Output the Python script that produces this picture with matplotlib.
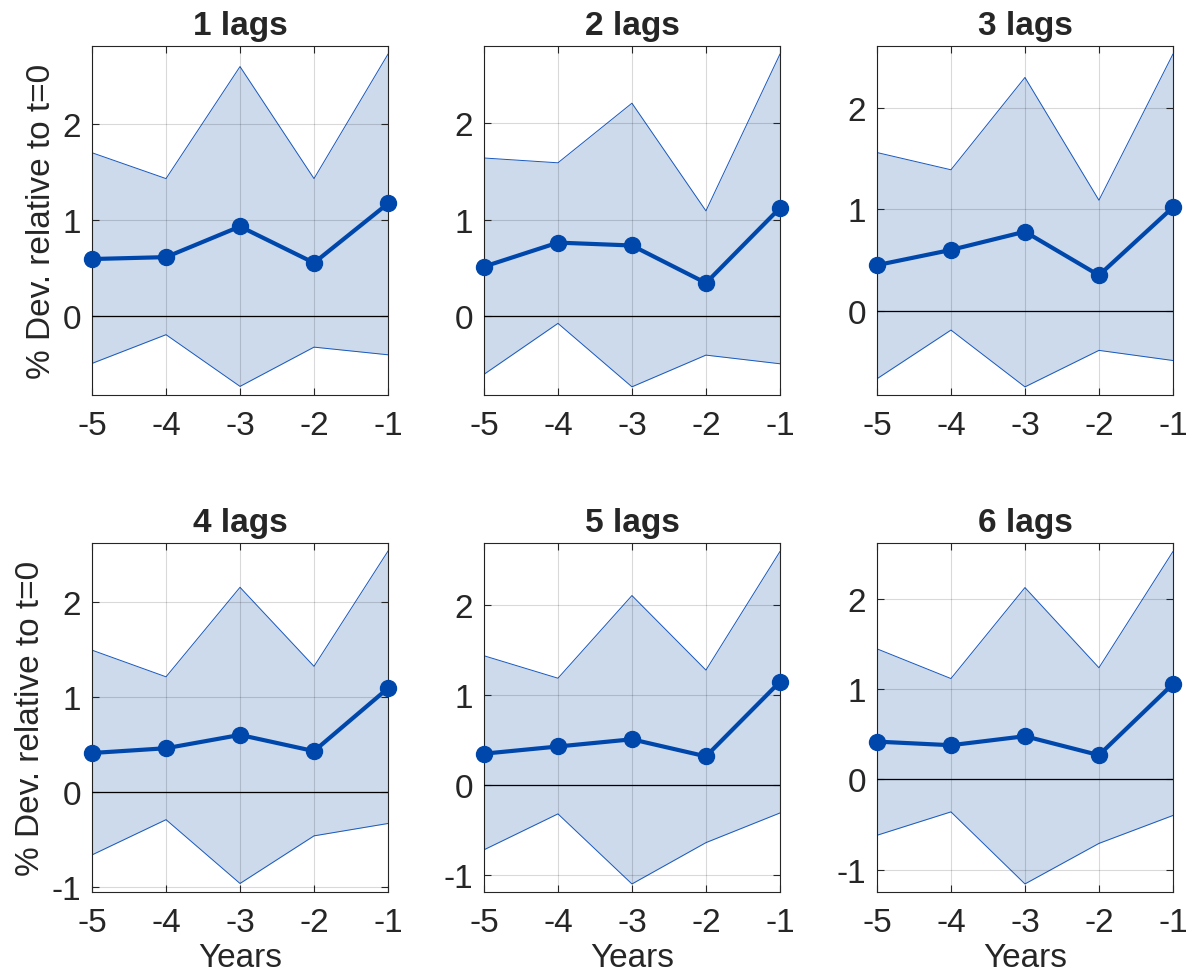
import numpy as np
import matplotlib
matplotlib.use('Agg')
from matplotlib import pyplot as plt
from matplotlib.ticker import MultipleLocator

plt.rcParams['font.family'] = ['Liberation Sans', 'DejaVu Sans']
plt.rcParams['axes.unicode_minus'] = False

years = [-5, -4, -3, -2, -1]
titles = ['1 lags', '2 lags', '3 lags', '4 lags', '5 lags', '6 lags']

# point estimates and confidence band for each lag length
est_1 = [0.59, 0.61, 0.93, 0.55, 1.17]
upper_1 = [1.70, 1.43, 2.60, 1.43, 2.73]
lower_1 = [-0.50, -0.20, -0.74, -0.33, -0.41]

est_2 = [0.51, 0.76, 0.73, 0.34, 1.12]
upper_2 = [1.64, 1.59, 2.21, 1.09, 2.72]
lower_2 = [-0.61, -0.08, -0.74, -0.41, -0.50]

est_3 = [0.45, 0.60, 0.78, 0.35, 1.02]
upper_3 = [1.56, 1.39, 2.30, 1.09, 2.53]
lower_3 = [-0.67, -0.19, -0.75, -0.39, -0.49]

est_4 = [0.41, 0.46, 0.60, 0.43, 1.09]
upper_4 = [1.49, 1.21, 2.15, 1.32, 2.53]
lower_4 = [-0.66, -0.29, -0.96, -0.46, -0.33]

est_5 = [0.35, 0.43, 0.51, 0.32, 1.15]
upper_5 = [1.44, 1.19, 2.11, 1.28, 2.60]
lower_5 = [-0.72, -0.32, -1.10, -0.64, -0.31]

est_6 = [0.42, 0.38, 0.48, 0.27, 1.06]
upper_6 = [1.45, 1.12, 2.13, 1.24, 2.53]
lower_6 = [-0.62, -0.36, -1.16, -0.71, -0.40]

ests = [est_1, est_2, est_3, est_4, est_5, est_6]
uppers = [upper_1, upper_2, upper_3, upper_4, upper_5, upper_6]
lowers = [lower_1, lower_2, lower_3, lower_4, lower_5, lower_6]
ylims = [(-0.83, 2.82), (-0.825, 2.81), (-0.83, 2.615),
         (-1.05, 2.62), (-1.19, 2.70), (-1.25, 2.63)]

line_col = '#0047AB'
band_col = '#CCDAEC'
edge_col = '#1858BD'
txt_col = '#262626'

fig = plt.figure(figsize=(11.92, 9.79), dpi=100)
lefts = [0.0772, 0.406, 0.7357]
bottoms = [0.5955, 0.0878]
w, h = 0.2483, 0.357

for i in range(6):
    r, c = divmod(i, 3)
    ax = fig.add_axes([lefts[c], bottoms[r], w, h])
    ax.fill_between(years, lowers[i], uppers[i], color=band_col, lw=0, zorder=1)
    ax.plot(years, uppers[i], color=edge_col, lw=0.7, zorder=2)
    ax.plot(years, lowers[i], color=edge_col, lw=0.7, zorder=2)
    ax.axhline(0, color='k', lw=0.9, zorder=3)
    ax.plot(years, ests[i], color=line_col, lw=3, marker='o', ms=11.5,
            zorder=5, clip_on=False)
    ax.set_xlim(-5, -1)
    ax.set_ylim(*ylims[i])
    ax.set_xticks(years)
    ax.yaxis.set_major_locator(MultipleLocator(1))
    ax.grid(True, color='k', alpha=0.15, lw=0.8, zorder=4)
    ax.set_axisbelow(False)
    ax.tick_params(direction='in', length=5, width=0.8, top=True, right=True,
                   labelsize=24, colors=txt_col, pad=8)
    ax.tick_params(axis='x', pad=11)
    for s in ax.spines.values():
        s.set_color(txt_col)
        s.set_linewidth(0.8)
    ax.set_title(titles[i], fontsize=24, fontweight='bold', color=txt_col, pad=8)
    if c == 0:
        ax.set_ylabel('% Dev. relative to t=0', fontsize=24, color=txt_col,
                      labelpad=4)
    if r == 1:
        ax.set_xlabel('Years', fontsize=24, color=txt_col, labelpad=3)

fig.savefig('out.png', dpi=100)
